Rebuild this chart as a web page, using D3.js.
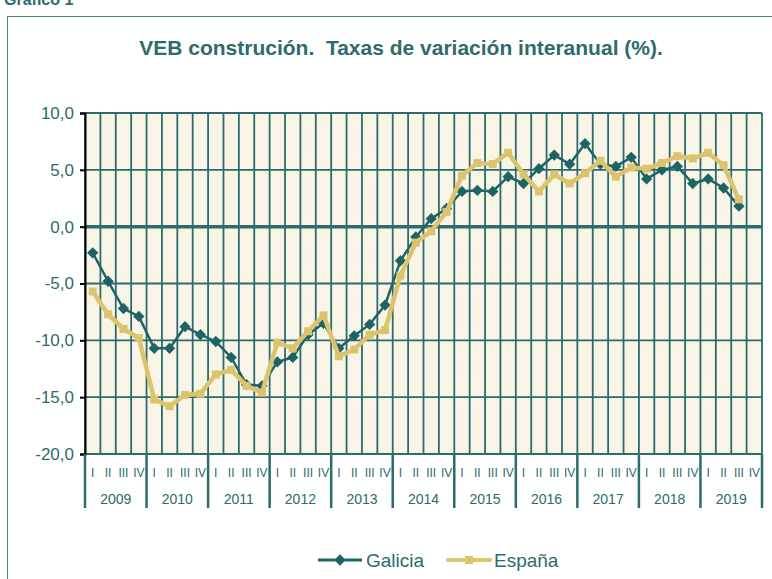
<!DOCTYPE html>
<html>
<head>
<meta charset="utf-8">
<script src="https://cdn.jsdelivr.net/npm/d3@7"></script>
<style>
  body { margin: 0; background: #fff; }
  text { font-family: "Liberation Sans", Arial, sans-serif; }
</style>
</head>
<body>
<div id="chart"></div>
<script>
// datos: VEB construcion, taxas de variacion interanual (%)
var years = ["2009", "2010", "2011", "2012", "2013", "2014", "2015", "2016", "2017", "2018", "2019"];
var quarters = ["I", "II", "III", "IV"];
var galicia = [-2.3, -4.8, -7.2, -7.9, -10.7, -10.7, -8.8, -9.5, -10.1, -11.5,
    -13.9, -14.0, -11.9, -11.5, -9.5, -8.5, -10.7, -9.6, -8.6, -6.9,
    -3.0, -0.9, 0.7, 1.6, 3.1, 3.2, 3.1, 4.4, 3.8, 5.1,
    6.3, 5.5, 7.3, 5.5, 5.3, 6.1, 4.2, 5.0, 5.3, 3.8,
    4.2, 3.4, 1.8];
var espana = [-5.7, -7.7, -9.0, -9.8, -15.2, -15.8, -14.8, -14.7, -13.0, -12.6,
    -14.0, -14.6, -10.2, -10.7, -9.2, -7.8, -11.4, -10.8, -9.5, -9.1,
    -4.3, -1.4, -0.4, 1.3, 4.5, 5.6, 5.5, 6.5, 4.6, 3.1,
    4.6, 3.8, 4.7, 5.8, 4.4, 5.2, 5.1, 5.6, 6.2, 6.0,
    6.5, 5.4, 2.4];
var yTicks = [10, 5, 0, -5, -10, -15, -20];

var teal = "#2d6b6d", galCol = "#1f6465", espCol = "#dcc46e";

function chart(){
    var W = 772, H = 579;
    var margin = {top: 113, left: 85},
        width = 762 - margin.left,
        height = 454 - margin.top;

    var root = d3.select("#chart").append("svg")
        .attr("width", W).attr("height", H);

    // marco exterior e titulo
    root.append("rect")
        .attr("x", 7.5).attr("y", 16.5).attr("width", 780).attr("height", 600)
        .attr("fill", "none").attr("stroke", "#4d7f80").attr("stroke-width", 1);
    root.append("text")
        .attr("x", 4).attr("y", 5)
        .attr("font-size", 16).attr("font-weight", "bold").attr("fill", teal)
        .text("Gráfico 1");
    root.append("text")
        .attr("x", 401).attr("y", 55)
        .attr("text-anchor", "middle")
        .attr("font-size", 21).attr("font-weight", "bold").attr("fill", teal)
        .style("font-family", "'Liberation Sans Narrow', 'Arial Narrow', sans-serif")
        .style("white-space", "pre")
        .text("VEB construción.  Taxas de variación interanual (%).");

    var svg = root.append("g")
        .attr("transform", "translate(" + margin.left + "," + margin.top + ")");

    // escalas: un slot por trimestre
    var slots = [];
    years.forEach(function(y){ quarters.forEach(function(q){ slots.push(y + q); }); });
    var x = d3.scaleBand().domain(slots).range([0, width]);
    var xYear = d3.scaleBand().domain(years).range([0, width]);
    var y = d3.scaleLinear().domain([-20, 10]).range([height, 0]);

    svg.append("rect")
        .attr("width", width).attr("height", height)
        .attr("fill", "#f8f4e6");

    // grella vertical
    svg.selectAll("vgrid")
        .data(slots.concat(["end"]))
        .enter().append("line")
        .attr("x1", function(d, i){ return i * x.bandwidth(); })
        .attr("x2", function(d, i){ return i * x.bandwidth(); })
        .attr("y1", 0).attr("y2", height)
        .attr("stroke", teal).attr("stroke-width", 1.8);

    // grella horizontal
    svg.selectAll("hgrid")
        .data(yTicks)
        .enter().append("line")
        .attr("x1", 0).attr("x2", width)
        .attr("y1", function(d){ return y(d); })
        .attr("y2", function(d){ return y(d); })
        .attr("stroke", teal)
        .attr("stroke-width", function(d){ return d === 0 ? 3.5 : 1.8; });

    // eixo Y
    var yAxis = svg.append("g")
        .call(d3.axisLeft(y).tickValues(yTicks).tickSize(5).tickPadding(6)
            .tickFormat(function(d){ return d3.format(".1f")(d).replace(".", ",").replace("\u2212", "-"); }));
    yAxis.select(".domain").attr("stroke", "#000").attr("stroke-width", 2);
    yAxis.selectAll(".tick line").attr("stroke", "#000").attr("stroke-width", 2);
    yAxis.selectAll("text")
        .attr("font-size", 17).attr("fill", teal)
        .style("font-family", "'Liberation Sans', Arial, sans-serif");

    // eixo X: trimestres e anos
    var xa = svg.append("g").attr("transform", "translate(0," + height + ")");
    xa.selectAll("sep")
        .data(years.concat(["end"]))
        .enter().append("line")
        .attr("x1", function(d, i){ return i * xYear.bandwidth(); })
        .attr("x2", function(d, i){ return i * xYear.bandwidth(); })
        .attr("y1", 0).attr("y2", 54)
        .attr("stroke", teal).attr("stroke-width", 2.5);
    xa.selectAll("qlab")
        .data(slots)
        .enter().append("text")
        .attr("x", function(d){ return x(d) + x.bandwidth() / 2; })
        .attr("y", 23)
        .attr("text-anchor", "middle")
        .attr("font-size", 12).attr("fill", teal)
        .text(function(d, i){ return quarters[i % 4]; });
    xa.selectAll("ylab")
        .data(years)
        .enter().append("text")
        .attr("x", function(d){ return xYear(d) + xYear.bandwidth() / 2; })
        .attr("y", 50)
        .attr("text-anchor", "middle")
        .attr("font-size", 14).attr("fill", teal)
        .text(function(d){ return d; });

    var cx = function(d, i){ return x(slots[i]) + x.bandwidth() / 2; };
    var line = d3.line().x(cx).y(function(d){ return y(d); });

    // Galicia
    svg.append("path")
        .datum(galicia)
        .attr("d", line)
        .attr("fill", "none").attr("stroke", galCol).attr("stroke-width", 2.5);
    svg.selectAll("galpt")
        .data(galicia)
        .enter().append("path")
        .attr("d", d3.symbol().type(d3.symbolSquare).size(64))
        .attr("transform", function(d, i){ return "translate(" + cx(d, i) + "," + y(d) + ") rotate(45)"; })
        .attr("fill", galCol);

    // España
    svg.append("path")
        .datum(espana)
        .attr("d", line)
        .attr("fill", "none").attr("stroke", espCol).attr("stroke-width", 4.5);
    svg.selectAll("esppt")
        .data(espana)
        .enter().append("rect")
        .attr("x", function(d, i){ return cx(d, i) - 4; })
        .attr("y", function(d){ return y(d) - 4; })
        .attr("width", 8).attr("height", 8)
        .attr("fill", espCol);

    // lenda
    var leg = root.append("g").attr("transform", "translate(0,560)");
    leg.append("line").attr("x1", 318).attr("x2", 362).attr("y1", 0).attr("y2", 0)
        .attr("stroke", galCol).attr("stroke-width", 3);
    leg.append("path")
        .attr("d", d3.symbol().type(d3.symbolSquare).size(64))
        .attr("transform", "translate(340,0) rotate(45)")
        .attr("fill", galCol);
    leg.append("text").attr("x", 366).attr("y", 7)
        .attr("font-size", 19).attr("fill", teal).text("Galicia");
    leg.append("line").attr("x1", 448).attr("x2", 490).attr("y1", 0).attr("y2", 0)
        .attr("stroke", espCol).attr("stroke-width", 4).attr("stroke-linecap", "round");
    leg.append("rect").attr("x", 465).attr("y", -4).attr("width", 8).attr("height", 8)
        .attr("fill", espCol);
    leg.append("text").attr("x", 494).attr("y", 7)
        .attr("font-size", 19).attr("fill", teal).text("España");
}

chart();
</script>
</body>
</html>
